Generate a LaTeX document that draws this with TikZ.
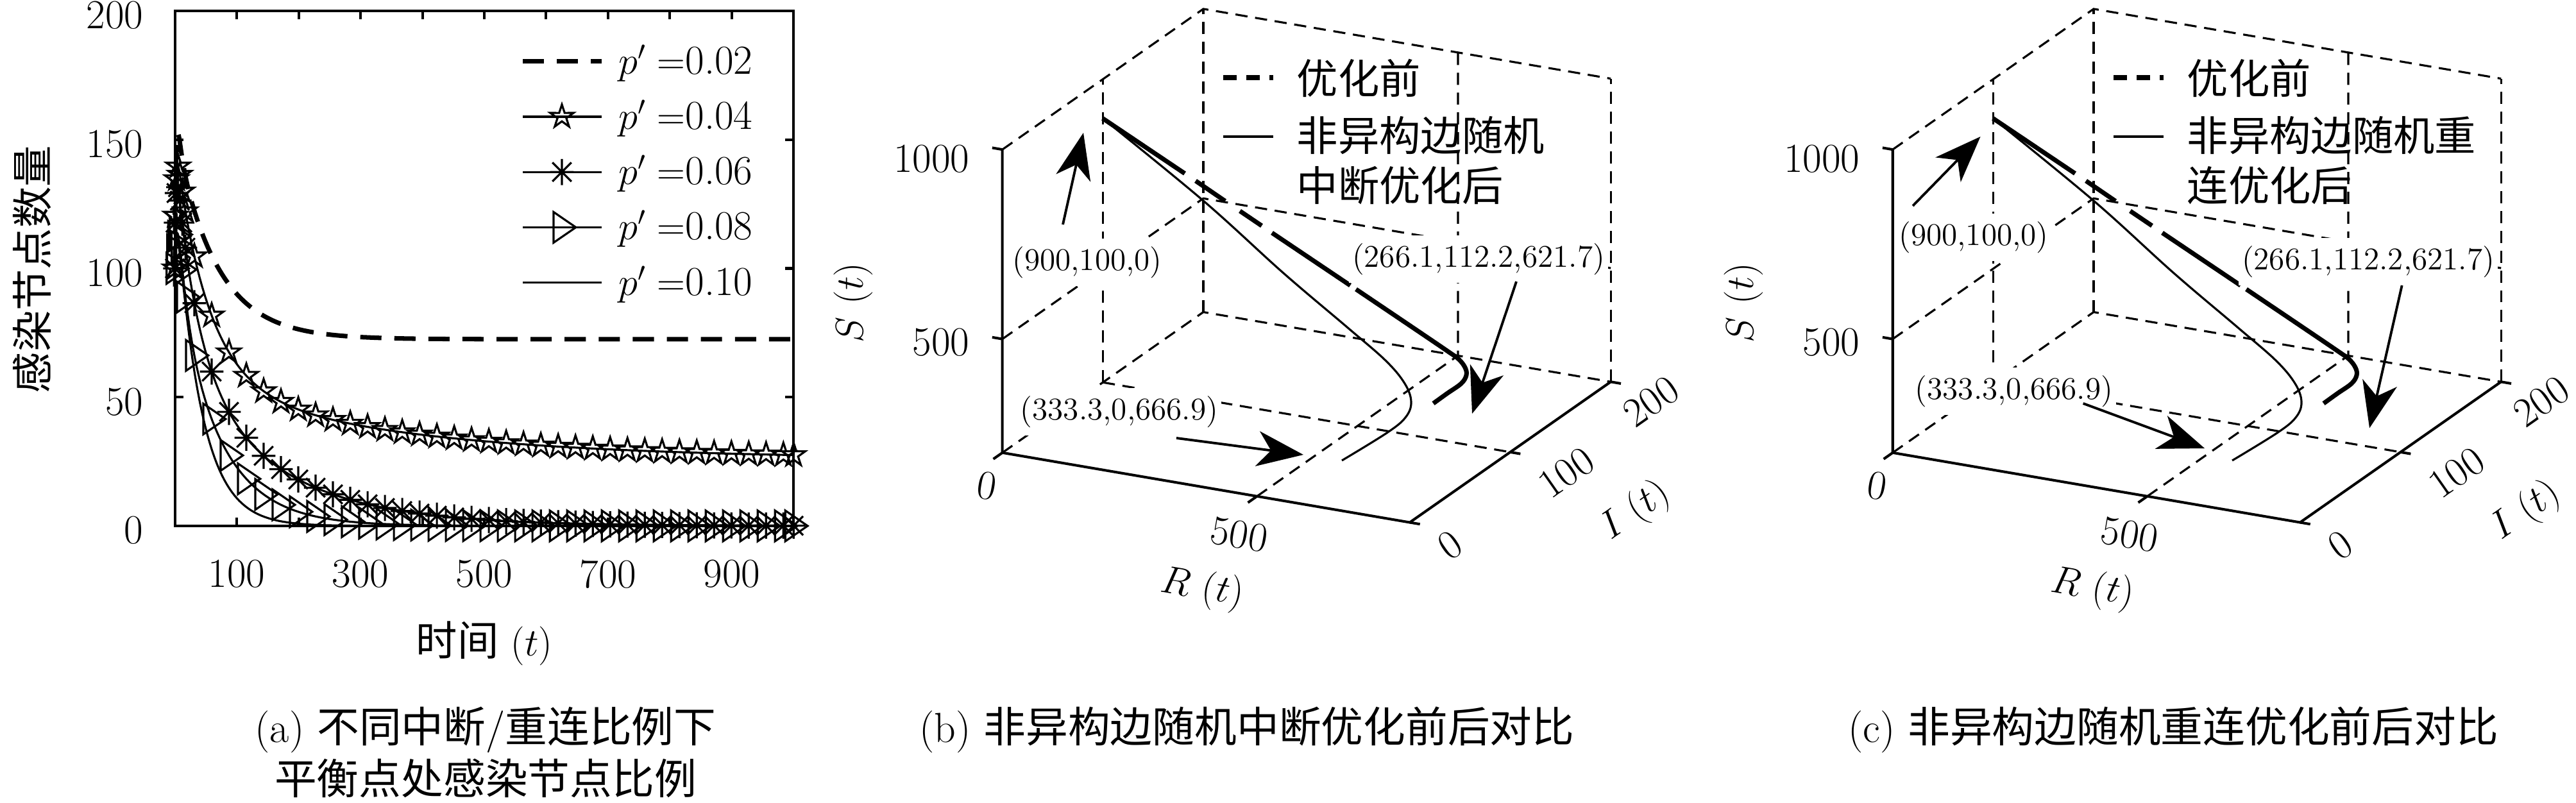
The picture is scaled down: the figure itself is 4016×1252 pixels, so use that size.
\documentclass[tikz,border=0pt]{standalone}
\usepackage{fontspec}
\newfontfamily\cjk{Noto Sans CJK SC}
\usetikzlibrary{arrows.meta}
\newcommand\fsm{\fontsize{18.3}{22}\selectfont}
\newcommand\fsa{\fontsize{14}{17}\selectfont}
\newcommand\fsc{\fontsize{18.7}{23}\selectfont}
\pgfdeclareplotmark{mstar}{%
  \pgfpathmoveto{\pgfpointpolar{90}{5.4pt}}%
  \pgfpathlineto{\pgfpointpolar{126}{2.06pt}}%
  \pgfpathlineto{\pgfpointpolar{162}{5.4pt}}%
  \pgfpathlineto{\pgfpointpolar{198}{2.06pt}}%
  \pgfpathlineto{\pgfpointpolar{234}{5.4pt}}%
  \pgfpathlineto{\pgfpointpolar{270}{2.06pt}}%
  \pgfpathlineto{\pgfpointpolar{306}{5.4pt}}%
  \pgfpathlineto{\pgfpointpolar{342}{2.06pt}}%
  \pgfpathlineto{\pgfpointpolar{18}{5.4pt}}%
  \pgfpathlineto{\pgfpointpolar{54}{2.06pt}}%
  \pgfpathclose
  \pgfusepathqstroke}
\pgfdeclareplotmark{mast}{%
  \pgfpathmoveto{\pgfpoint{0pt}{5.8pt}}\pgfpathlineto{\pgfpoint{0pt}{-5.8pt}}%
  \pgfpathmoveto{\pgfpoint{-5.2pt}{0pt}}\pgfpathlineto{\pgfpoint{5.2pt}{0pt}}%
  \pgfpathmoveto{\pgfpoint{-4.2pt}{-4.2pt}}\pgfpathlineto{\pgfpoint{4.2pt}{4.2pt}}%
  \pgfpathmoveto{\pgfpoint{-4.2pt}{4.2pt}}\pgfpathlineto{\pgfpoint{4.2pt}{-4.2pt}}%
  \pgfusepathqstroke}
\pgfdeclareplotmark{mtri}{%
  \pgfpathmoveto{\pgfpoint{-3.7pt}{6.8pt}}%
  \pgfpathlineto{\pgfpoint{-3.7pt}{-6.8pt}}%
  \pgfpathlineto{\pgfpoint{6.2pt}{0pt}}%
  \pgfpathclose
  \pgfusepathqstroke}
\tikzset{declare function={
  ex(\q)=exp(max(\q,-9));
  bump(\q)=ex(-\q/6)-ex(-\q/1.5);
  fa(\q)=72.5+80*ex(-\q/66)-52.5*ex(-\q/2)+25*bump(\q);
  fb(\q)=26+90.8*ex(-\q/52.8)+31.4*ex(-\q/330)-48.2*ex(-\q/2)+10*bump(\q);
  fc(\q)=76*ex(-\q/36.4)+67*ex(-\q/150)-43*ex(-\q/2)+10*bump(\q);
  fd(\q)=95*ex(-\q/70)+45*ex(-\q/15)-40*ex(-\q/3);
  fe(\q)=131.5*ex(-\q/40)-31.5*ex(-\q/3);
}}
% 3D panel: #1 x shift, #2 name suffix, #3 legend line 1, #4 legend line 2
\newcommand\threedpanel[4]{%
\begin{scope}[shift={(#1,0)}]
  \begin{scope}[shift={(1562.7,824)},x={(0.007941cm,-0.0013625cm)},y={(0.01565cm,0.01095cm)},z={(0cm,0.0059cm)}]
    \draw[g3] (0,0,1000) -- (0,200,1000) -- (800,200,1000);
    \draw[g3] (0,200,200) -- (0,200,1000);
    \draw[g3] (800,200,200) -- (800,200,1000);
    \draw[g3] (0,0,200) -- (0,200,200) -- (800,200,200);
    \draw[g3] (500,0,200) -- (500,200,200) -- (500,200,1000);
    \draw[g3] (0,100,200) -- (800,100,200);
    \draw[g3] (0,100,200) -- (0,100,1000);
    \draw[g3] (0,0,500) -- (0,200,500) -- (800,200,500);
    \draw[ax] (0,0,1000) -- (0,0,200) -- (800,0,200) -- (800,200,200);
    \draw[ax] (0,0,500) -- ++(-20,0,0);
    \draw[ax] (0,0,1000) -- ++(-20,0,0);
    \draw[ax] (0,0,200) -- ++(0,-9,0);
    \draw[ax] (500,0,200) -- ++(0,-9,0);
    \draw[ax] (800,0,200) -- ++(20,0,0);
    \draw[ax] (800,100,200) -- ++(20,0,0);
    \draw[ax] (800,200,200) -- ++(20,0,0);
  \end{scope}
  \node[lbl, anchor=east] (s1000#2) at (1512,248) {1000};
  \node[lbl, anchor=east] (s500#2) at (1512,534) {500};
  \node[lbl, rotate=90] (slab#2) at (1330,472) {$S$ $(t)$};
  \node[lbl, rotate=-9.7] (r0#2) at (1539,758) {0};
  \node[lbl, rotate=-9.7] (r500#2) at (1932,834) {500};
  \node[lbl, rotate=-9.7] (rlab#2) at (1874,918) {$R$ $(t)$};
  \node[lbl, rotate=35] (i0#2) at (2261,850) {0};
  \node[lbl, rotate=35] (i100#2) at (2442,737) {100};
  \node[lbl, rotate=35] (i200#2) at (2574,626) {200};
  \node[lbl, rotate=35] (ilab#2) at (2550,797) {$I$ $(t)$};
  % curve before optimisation (thick, dashed)
  \draw[thk] (1719,184.5) -- (1847,270.5);
  \draw[thk] (1864,282) -- (1910,313.5);
  \draw[thk] (1933,329) -- (1967,352);
  \draw[thk] (1983,363) -- (2105,445);
  \draw[thk] plot[smooth, tension=0.6] coordinates {(2114,451) (2200,509) (2256,547) (2274,560) (2284,573) (2286,585) (2278,598) (2256,613.5) (2234.5,629)};
  % curve after optimisation (thin, solid)
  \draw[cv] plot[smooth, tension=0.6] coordinates {(1719,184.5) (1876,313) (2000,425) (2100,510) (2160,562) (2190,598) (2200,627) (2191,651) (2162,675) (2092,718)};
  % legend
  \draw[thk, dash pattern=on 5.9pt off 4.3pt] (1907,121) -- (1985,121);
  \draw[cv] (1907,213) -- (1985,213);
  \node[lbl, anchor=west] (lg1#2) at (2021,122) {\cjk 优化前};
  \node[lbl, anchor=west] (lg2#2) at (2021,211) {\cjk #3};
  \node[lbl, anchor=west] (lg3#2) at (2021,289) {\cjk #4};
\end{scope}}
\begin{document}
\begin{tikzpicture}[x=0.01cm, y=-0.01cm,
  ax/.style={line width=1.15pt},
  cv/.style={line width=0.9pt},
  mk/.style={line width=0.9pt},
  dsh/.style={line width=2pt, dash pattern=on 9.4pt off 5.7pt},
  g3/.style={line width=0.9pt, dash pattern=on 5.4pt off 3.4pt},
  thk/.style={line width=2pt},
  lbl/.style={font=\fsm, inner sep=0pt},
  ann/.style={font=\fsa, fill=white, inner xsep=1.5pt, inner ysep=3.4pt},
  arr/.style={line width=1.1pt, -{Stealth[length=20.5pt,width=15.6pt,inset=6pt]}},
  capt/.style={font=\fsc, inner sep=0pt, anchor=base}]
\useasboundingbox (0,0) rectangle (4016,1252);

%% ---------------- panel (a) ----------------
\draw[ax] (272.7,17) rectangle (1237.3,820);
\foreach \v in {50,100,150} {
  \draw[ax] (272.7,{820-4.015*\v}) -- ++(13,0);
  \draw[ax] (1237.3,{820-4.015*\v}) -- ++(-13,0);
}
\foreach \k in {1,...,9} {
  \draw[ax] ({272.7+96.46*\k},820) -- ++(0,-13);
  \draw[ax] ({272.7+96.46*\k},17) -- ++(0,13);
}
\foreach \v in {0,50,100,150,200}
  \node[lbl, anchor=east] (yt\v) at (224,{820-4.015*\v+7}) {\v};
\foreach \k in {1,3,5,7,9}
  \node[lbl] (xt\k) at ({272.7+96.46*\k},895) {\k00};
\node[lbl, rotate=90] (ylab) at (50,420) {\cjk 感染节点数量};
\node[lbl] (xlab) at (755,1003) {{\cjk 时间} $(t)$};

% curves
\draw[dsh] plot[samples at={0,0.5,...,20,24,28,...,1000}] ({272.7+0.9646*\x},{820-4.015*fa(\x)});
\draw[cv] plot[samples at={0,0.5,...,20,24,28,...,1000}] ({272.7+0.9646*\x},{820-4.015*fb(\x)});
\draw[cv] plot[samples at={0,0.5,...,20,24,28,...,1000}] ({272.7+0.9646*\x},{820-4.015*fc(\x)});
\draw[cv] plot[samples at={0,0.5,...,20,24,28,...,1000}] ({272.7+0.9646*\x},{820-4.015*fd(\x)});
\draw[cv] plot[samples at={0,0.5,...,20,24,28,...,1000}] ({272.7+0.9646*\x},{820-4.015*fe(\x)});
\draw[mk] plot[only marks, mark=mstar, samples at={0,1,2.5,5,8,12,17,31.4,59.4,...,984,1000}] ({272.7+0.9646*\x},{820-4.015*fb(\x)});
\draw[mk] plot[only marks, mark=mast, samples at={0,1,2.5,5,8,12,17,31.4,59.4,...,984,1000}] ({272.7+0.9646*\x},{820-4.015*fc(\x)});
\draw[mk] plot[only marks, mark=mtri, samples at={0,1,2.5,5,8,12,17,31.4,59.4,...,984,1000}] ({272.7+0.9646*\x},{820-4.015*fd(\x)});

% legend
\draw[dsh] (815,95.7) -- (938,95.7);
\draw[cv] (815,181.95) -- (938,181.95);
\draw[mk] plot[mark=mstar] coordinates {(876,181.95)};
\draw[cv] (815,268.2) -- (938,268.2);
\draw[mk] plot[mark=mast] coordinates {(876,268.2)};
\draw[cv] (815,354.45) -- (938,354.45);
\draw[mk] plot[mark=mtri] coordinates {(876,354.45)};
\draw[cv] (815,440.7) -- (938,440.7);
\node[lbl, anchor=base west] (la1) at (964,115.2) {$p'=$0.02};
\node[lbl, anchor=base west] (la2) at (964,201.45) {$p'=$0.04};
\node[lbl, anchor=base west] (la3) at (964,287.7) {$p'=$0.06};
\node[lbl, anchor=base west] (la4) at (964,373.95) {$p'=$0.08};
\node[lbl, anchor=base west] (la5) at (964,460.2) {$p'=$0.10};

\node[capt] (capa1) at (757,1157) {(a) {\cjk 不同中断}/{\cjk 重连比例下}};
\node[capt] (capa2) at (757,1238) {\cjk 平衡点处感染节点比例};

%% ---------------- panel (b) ----------------
\threedpanel{0}{b}{非异构边随机}{中断优化后}
\node[ann] (pb1) at (1695,409) {(900,100,0)};
\node[ann] (pb2) at (2305,404) {(266.1,112.2,621.7)};
\node[ann] (pb3) at (1745,642) {(333.3,0,666.9)};
\coordinate (b1s) at (1657,350); \coordinate (b1e) at (1689,207);
\coordinate (b2s) at (2364,439); \coordinate (b2e) at (2295,645);
\coordinate (b3s) at (1834,683); \coordinate (b3e) at (2032,709);
\draw[arr] (b1s) -- (b1e);
\draw[arr] (b2s) -- (b2e);
\draw[arr] (b3s) -- (b3e);
\node[capt] (capb) at (1944,1157) {(b) {\cjk 非异构边随机中断优化前后对比}};

%% ---------------- panel (c) ----------------
\threedpanel{1388}{c}{非异构边随机重}{连优化后}
\node[ann] (pc1) at (3077,370) {(900,100,0)};
\node[ann] (pc2) at (3692,408) {(266.1,112.2,621.7)};
\node[ann] (pc3) at (3140,610) {(333.3,0,666.9)};
\coordinate (c1s) at (2982,321); \coordinate (c1e) at (3087.5,213);
\coordinate (c2s) at (3744.6,445); \coordinate (c2e) at (3694,667.5);
\coordinate (c3s) at (3247.6,629); \coordinate (c3e) at (3437,699);
\draw[arr] (c1s) -- (c1e);
\draw[arr] (c2s) -- (c2e);
\draw[arr] (c3s) -- (c3e);
\node[capt] (capc) at (3388,1157) {(c) {\cjk 非异构边随机重连优化前后对比}};
\end{tikzpicture}
\end{document}
